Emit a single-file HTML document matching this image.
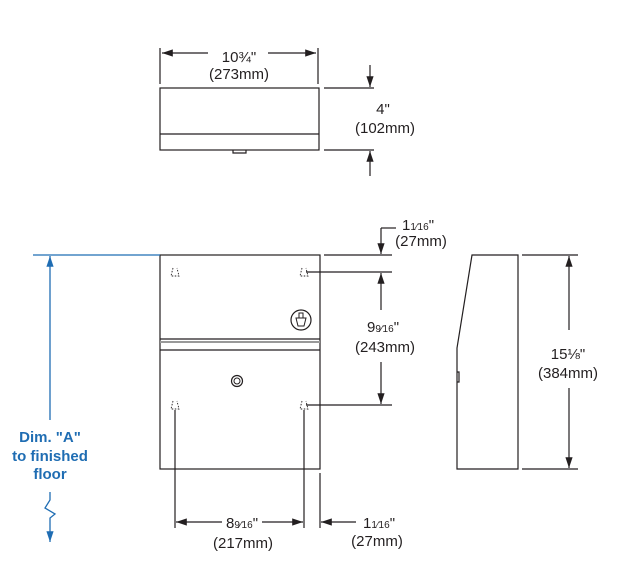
<!DOCTYPE html>
<html><head><style>body{margin:0;background:#fff}svg{display:block}text{font-family:"Liberation Sans",sans-serif;font-size:15px;fill:#231f20;text-anchor:middle}</style></head>
<body>
<svg width="630" height="568" viewBox="0 0 630 568" xmlns="http://www.w3.org/2000/svg">
<defs>
<marker id="a" viewBox="0 0 12 10" refX="12" refY="5" markerWidth="12" markerHeight="9" orient="auto-start-reverse" markerUnits="userSpaceOnUse"><path d="M0,1 L12,5 L0,9 Z" fill="#231f20"/></marker>
<marker id="b" viewBox="0 0 12 10" refX="12" refY="5" markerWidth="12" markerHeight="9" orient="auto-start-reverse" markerUnits="userSpaceOnUse"><path d="M0,1 L12,5 L0,9 Z" fill="#1f6db3"/></marker>
</defs>
<g stroke="#231f20" stroke-width="1.2" fill="none">
<rect x="160" y="88" width="159" height="62"/>
<line x1="160" y1="134" x2="319" y2="134"/>
<path d="M233,150 v3 h13 v-3"/>
<line x1="160" y1="48" x2="160" y2="84"/><line x1="318" y1="48" x2="318" y2="84"/>
<line x1="208" y1="53" x2="162" y2="53" marker-end="url(#a)"/>
<line x1="268" y1="53" x2="316" y2="53" marker-end="url(#a)"/>
<line x1="324" y1="88" x2="374" y2="88"/><line x1="324" y1="150" x2="374" y2="150"/>
<line x1="370" y1="65" x2="370" y2="87" marker-end="url(#a)"/>
<line x1="370" y1="176" x2="370" y2="151" marker-end="url(#a)"/>
<rect x="160" y="255" width="160" height="214"/>
<line x1="160" y1="339" x2="320" y2="339"/>
<line x1="160" y1="342" x2="320" y2="342" stroke="#999" stroke-width="2"/>
<line x1="160" y1="350" x2="320" y2="350"/>
<circle cx="237" cy="381" r="5.5"/><circle cx="237" cy="381" r="3" stroke-width="1"/>
<circle cx="301" cy="320" r="10"/>
<path d="M296,318 h10 l-2,8 h-6 z M299,318 v-5 h4 v5" stroke-width="1"/>
<g stroke-width="0.9" stroke-dasharray="1.5,1.5">
<path d="M173,268 l-2,8 h8 l-2,-8"/><path d="M302,268 l-2,8 h8 l-2,-8"/>
<path d="M173,401 l-2,8 h8 l-2,-8"/><path d="M302,401 l-2,8 h8 l-2,-8"/>
</g>
<line x1="324" y1="255" x2="392" y2="255"/>
<line x1="306" y1="272" x2="392" y2="272"/>
<line x1="306" y1="405" x2="392" y2="405"/>
<path d="M381,228 h15"/>
<line x1="381" y1="228" x2="381" y2="254" marker-end="url(#a)"/>
<line x1="381" y1="310" x2="381" y2="273" marker-end="url(#a)"/>
<line x1="381" y1="362" x2="381" y2="404" marker-end="url(#a)"/>
<line x1="175" y1="410" x2="175" y2="528"/><line x1="304" y1="410" x2="304" y2="528"/>
<line x1="320" y1="473" x2="320" y2="528"/>
<line x1="222" y1="522" x2="176" y2="522" marker-end="url(#a)"/>
<line x1="262" y1="522" x2="303" y2="522" marker-end="url(#a)"/>
<line x1="356" y1="522" x2="321" y2="522" marker-end="url(#a)"/>
<path d="M472,255 H518 V469 H457 V348 Z"/>
<path d="M457,372 h2 v10 h-2"/>
<line x1="522" y1="255" x2="578" y2="255"/><line x1="522" y1="469" x2="578" y2="469"/>
<line x1="569" y1="330" x2="569" y2="256" marker-end="url(#a)"/>
<line x1="569" y1="388" x2="569" y2="468" marker-end="url(#a)"/>
</g>
<g stroke="#1f6db3" stroke-width="1.3" fill="none">
<line x1="33" y1="255" x2="160" y2="255"/>
<line x1="50" y1="420" x2="50" y2="256" marker-end="url(#b)"/>
<path d="M50,492 v8 l-5,8 l10,6 l-5,4 v24" marker-end="url(#b)"/>
</g>
<text x="239" y="62">10¾"</text><text x="239" y="79">(273mm)</text>
<text x="383" y="114">4"</text><text x="385" y="133">(102mm)</text>
<text x="418" y="230">1<tspan font-size="10">1⁄16</tspan>"</text><text x="421" y="246">(27mm)</text>
<text x="383" y="332">9<tspan font-size="10">9⁄16</tspan>"</text><text x="385" y="352">(243mm)</text>
<text x="242" y="528">8<tspan font-size="10">9⁄16</tspan>"</text><text x="243" y="548">(217mm)</text>
<text x="379" y="528">1<tspan font-size="10">1⁄16</tspan>"</text><text x="377" y="546">(27mm)</text>
<text x="568" y="359">15⅛"</text><text x="568" y="378">(384mm)</text>
<g style="font-weight:bold;font-size:15px">
<text x="50" y="442" style="fill:#1f6db3">Dim. "A"</text>
<text x="50" y="461" style="fill:#1f6db3">to finished</text>
<text x="50" y="479" style="fill:#1f6db3">floor</text>
</g>
</svg>
</body></html>
